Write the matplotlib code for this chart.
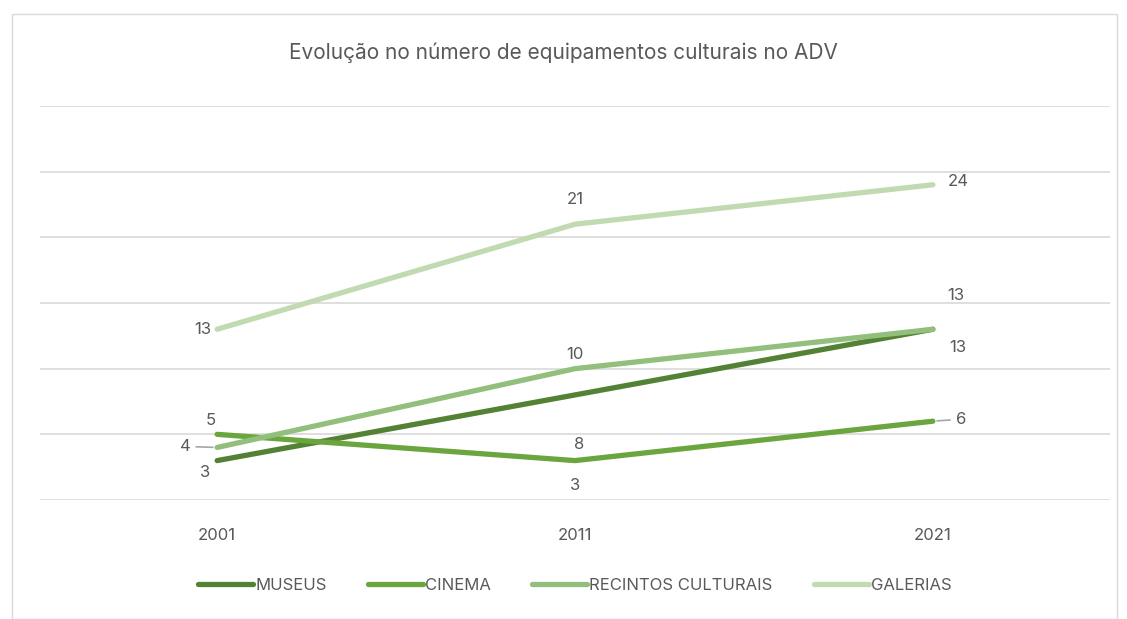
import matplotlib.pyplot as plt
from matplotlib.patches import Rectangle

# data
years = ['2001', '2011', '2021']
museus = [3, 8, 13]
cinema = [5, 3, 6]
recintos = [4, 10, 13]
galerias = [13, 21, 24]

series = [
    ('MUSEUS', museus, '#548235'),
    ('CINEMA', cinema, '#6aa53e'),
    ('RECINTOS CULTURAIS', recintos, '#93bf7d'),
    ('GALERIAS', galerias, '#c1dab1'),
]

# label offsets in pixels (dx, dy) for each point
offsets = {
    'MUSEUS': [(-12, -12), (4, -50), (25, -18)],
    'CINEMA': [(-6, 14), (0, -25), (28, 2)],
    'RECINTOS CULTURAIS': [(-32, 1), (0, 14), (23, 34)],
    'GALERIAS': [(-14, 0), (0, 25), (25, 3)],
}
leaders = {('CINEMA', 2), ('RECINTOS CULTURAIS', 0)}

plt.rcParams['font.family'] = ['Inter', 'DejaVu Sans']
txt = '#595959'

fig = plt.figure(figsize=(11.27, 6.19), dpi=100)
fig.patches.append(Rectangle((12 / 1127, 0.0), 1105 / 1127, 1 - 14 / 619,
                             transform=fig.transFigure, fill=False,
                             edgecolor='#d9d9d9', lw=1))
ax = fig.add_axes([40 / 1127, 1 - 500 / 619, 1070 / 1127, 394 / 619])

x = range(len(years))
for name, vals, col in series:
    ax.plot(x, vals, color=col, lw=3.8, solid_capstyle='round', label=name, zorder=3)
    for i, v in enumerate(vals):
        dx, dy = offsets[name][i]
        ap = None
        if (name, i) in leaders:
            ap = dict(arrowstyle='-', color='#a6a6a6', lw=1.2, shrinkA=2, shrinkB=3)
        ax.annotate(str(v), (i, v), xytext=(dx, dy), textcoords='offset pixels',
                    ha='center', va='center', fontsize=12, color=txt,
                    arrowprops=ap, zorder=4)

ax.set_xlim(-0.495, 2.495)
ax.set_ylim(0, 30)
ax.set_yticks(range(0, 31, 5))
ax.set_yticklabels([])
ax.set_xticks(list(x))
ax.set_xticklabels(years, fontsize=12, color=txt)
ax.tick_params(axis='both', length=0)
ax.tick_params(axis='x', pad=20)
ax.grid(axis='y', color='#d9d9d9', lw=1.2)
ax.set_axisbelow(True)
for s in ax.spines.values():
    s.set_visible(False)

fig.text(0.5, 1 - 53 / 619, 'Evolução no número de equipamentos culturais no ADV',
         ha='center', va='center', fontsize=15, color=txt)

fig.legend(loc='center', bbox_to_anchor=(0.51, 1 - 585 / 619), ncol=4, frameon=False,
           fontsize=12, labelcolor=txt, handlelength=3.3, handletextpad=0.1,
           columnspacing=2.5)

fig.savefig('out.png', dpi=100)
